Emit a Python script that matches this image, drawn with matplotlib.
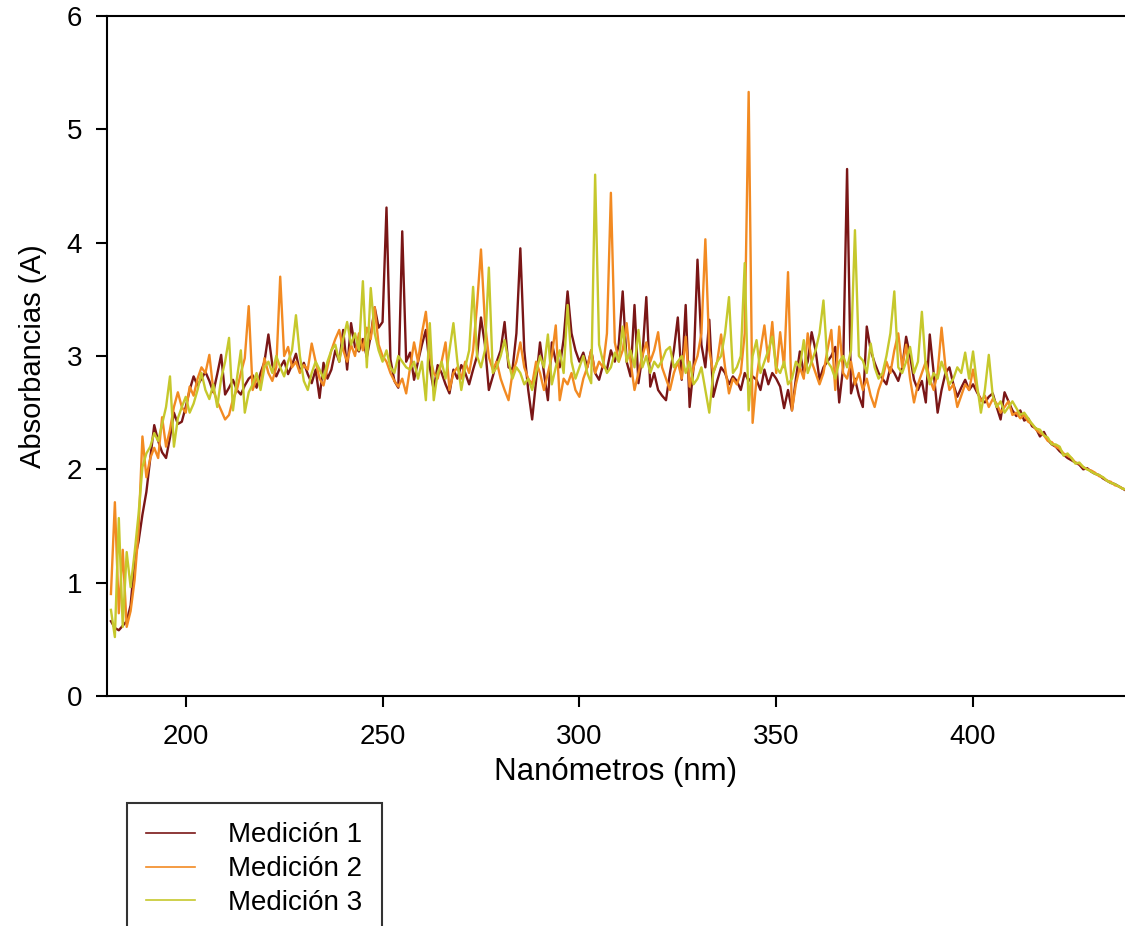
import numpy as np
import matplotlib
matplotlib.use("Agg")
import matplotlib.pyplot as plt

plt.rcParams['font.family'] = ['Liberation Sans', 'DejaVu Sans']

# wavelength (nm), 1 nm steps
wavelength = list(range(181, 441))

medicion_1 = [
    0.66, 0.60, 0.58, 0.62, 0.66, 0.80, 1.20, 1.36, 1.60, 1.80,
    2.10, 2.39, 2.25, 2.15, 2.10, 2.28, 2.50, 2.40, 2.42, 2.55,
    2.70, 2.82, 2.74, 2.80, 2.86, 2.78, 2.68, 2.84, 3.01, 2.66,
    2.72, 2.79, 2.70, 2.66, 2.74, 2.80, 2.83, 2.72, 2.85, 2.95,
    3.19, 2.92, 2.82, 2.90, 2.96, 2.84, 2.92, 3.02, 2.86, 2.94,
    2.84, 2.76, 2.88, 2.63, 2.94, 2.80, 2.88, 3.05, 2.95, 3.23,
    2.88, 3.29, 3.08, 3.04, 3.15, 2.99, 3.18, 3.43, 3.25, 3.30,
    4.31, 2.97, 2.78, 2.72, 4.10, 2.95, 3.03, 2.79, 2.95, 3.10,
    3.23, 2.90, 2.70, 2.92, 2.85, 2.75, 2.67, 2.88, 2.80, 2.92,
    2.85, 2.75, 2.88, 3.00, 3.34, 3.10, 2.70, 2.82, 2.95, 3.05,
    3.30, 2.90, 2.88, 3.20, 3.95, 3.05, 2.70, 2.44, 2.78, 3.12,
    2.85, 2.61, 3.12, 2.95, 2.90, 3.15, 3.57, 3.20, 3.05, 2.95,
    3.03, 2.90, 3.05, 2.85, 2.79, 2.92, 2.88, 3.05, 2.95, 3.10,
    3.57, 2.95, 2.82, 3.45, 2.76, 3.00, 3.52, 2.73, 2.85, 2.70,
    2.65, 2.61, 2.85, 3.05, 3.34, 2.79, 3.45, 2.55, 2.90, 3.85,
    3.10, 2.90, 3.32, 2.64, 2.78, 2.90, 2.85, 2.75, 2.82, 2.78,
    2.70, 2.85, 2.78, 2.82, 2.79, 2.70, 2.88, 2.75, 2.85, 2.80,
    2.73, 2.54, 2.70, 2.52, 2.80, 3.04, 2.85, 2.95, 3.21, 3.05,
    2.79, 2.90, 2.95, 3.00, 3.08, 2.59, 2.90, 4.65, 2.67, 2.80,
    2.65, 2.55, 3.26, 3.05, 2.94, 2.85, 2.80, 2.75, 2.90, 2.85,
    2.78, 2.90, 3.17, 3.00, 2.79, 2.70, 2.78, 2.59, 3.19, 2.85,
    2.50, 2.70, 2.85, 2.90, 2.75, 2.64, 2.72, 2.79, 2.70, 2.75,
    2.68, 2.62, 2.59, 2.64, 2.67, 2.55, 2.44, 2.68, 2.60, 2.52,
    2.47, 2.52, 2.43, 2.45, 2.38, 2.36, 2.29, 2.33, 2.26, 2.22,
    2.20, 2.16, 2.13, 2.10, 2.08, 2.06, 2.04, 2.00, 2.01, 1.98,
    1.96, 1.95, 1.92, 1.90, 1.88, 1.87, 1.85, 1.83, 1.81, 1.79,
]

medicion_2 = [
    0.90, 1.71, 0.73, 1.29, 0.61, 0.75, 1.02, 1.45, 2.29, 1.93,
    2.10, 2.19, 2.10, 2.46, 2.20, 2.35, 2.55, 2.68, 2.55, 2.50,
    2.73, 2.65, 2.80, 2.90, 2.85, 3.01, 2.70, 2.60, 2.52, 2.44,
    2.48, 2.62, 2.70, 2.85, 2.98, 3.44, 2.70, 2.80, 2.75, 2.98,
    2.85, 2.78, 2.90, 3.70, 3.00, 3.08, 2.90, 2.95, 2.85, 2.92,
    2.88, 3.11, 2.95, 2.80, 2.74, 2.90, 3.05, 3.15, 3.23, 3.05,
    2.95, 3.10, 3.00, 3.20, 3.05, 3.25, 3.15, 3.43, 3.10, 3.00,
    2.95, 2.85, 2.78, 2.73, 2.80, 2.67, 2.90, 3.12, 2.95, 3.20,
    3.39, 3.00, 2.85, 2.80, 2.95, 3.12, 2.70, 2.85, 2.90, 2.80,
    2.95, 2.85, 3.05, 3.45, 3.94, 3.30, 2.99, 2.88, 2.95, 2.80,
    2.70, 2.61, 2.85, 2.95, 3.12, 2.90, 2.80, 2.75, 2.95, 2.85,
    2.70, 2.85, 3.00, 3.27, 2.61, 2.80, 2.75, 2.85, 2.70, 2.64,
    2.80, 2.90, 3.05, 2.85, 2.95, 2.90, 3.20, 4.44, 3.12, 2.95,
    3.05, 3.29, 2.95, 2.70, 2.85, 3.00, 3.12, 2.95, 3.05, 3.21,
    2.90, 2.80, 2.70, 2.85, 2.95, 2.80, 3.17, 2.73, 2.90, 3.00,
    3.20, 4.03, 3.05, 2.85, 2.95, 3.19, 2.90, 2.67, 2.80, 2.75,
    2.85, 3.20, 5.33, 2.41, 2.80, 3.05, 3.27, 2.95, 3.30, 2.85,
    3.21, 2.90, 3.74, 2.52, 2.75, 2.90, 2.80, 3.20, 2.95, 2.85,
    2.75, 2.85, 3.05, 3.23, 2.70, 3.26, 2.85, 2.80, 2.95, 2.75,
    2.85, 2.70, 2.80, 2.65, 2.55, 2.70, 2.80, 2.95, 2.85, 3.05,
    3.20, 2.90, 3.10, 2.80, 2.59, 2.75, 2.85, 2.95, 2.80, 2.70,
    2.85, 3.25, 2.90, 2.70, 2.75, 2.55, 2.65, 2.75, 2.70, 2.88,
    2.70, 2.60, 2.65, 2.55, 2.62, 2.58, 2.50, 2.55, 2.60, 2.48,
    2.50, 2.45, 2.48, 2.42, 2.40, 2.35, 2.32, 2.30, 2.25, 2.24,
    2.20, 2.18, 2.14, 2.12, 2.10, 2.06, 2.05, 2.02, 2.00, 1.99,
    1.97, 1.94, 1.93, 1.90, 1.89, 1.86, 1.85, 1.83, 1.82, 1.80,
]

medicion_3 = [
    0.76, 0.52, 1.57, 0.61, 1.27, 0.96, 1.26, 1.60, 2.02, 2.14,
    2.20, 2.32, 2.25, 2.40, 2.55, 2.82, 2.20, 2.45, 2.55, 2.64,
    2.50, 2.58, 2.70, 2.85, 2.70, 2.62, 2.75, 2.55, 2.80, 2.95,
    3.16, 2.52, 2.80, 3.05, 2.50, 2.68, 2.75, 2.85, 2.70, 2.90,
    2.95, 2.85, 3.00, 2.90, 2.82, 2.95, 3.05, 3.36, 3.00, 2.78,
    2.70, 2.85, 2.95, 2.88, 2.80, 2.95, 3.05, 3.10, 2.95, 3.15,
    3.30, 3.10, 3.20, 3.05, 3.66, 2.90, 3.60, 3.20, 3.05, 2.95,
    3.05, 2.90, 2.85, 3.00, 2.95, 2.90, 2.88, 2.95, 2.80, 2.95,
    2.61, 3.29, 2.61, 2.85, 2.95, 2.80, 3.05, 3.29, 2.95, 2.70,
    2.90, 3.05, 3.61, 3.00, 2.90, 3.05, 3.78, 2.85, 2.90, 3.00,
    3.14, 2.95, 2.80, 2.90, 2.85, 2.75, 2.80, 2.70, 2.85, 3.00,
    2.90, 3.19, 2.75, 2.90, 3.05, 2.85, 3.45, 2.95, 2.80, 2.90,
    3.00, 2.85, 2.76, 4.60, 3.10, 2.95, 2.85, 2.90, 3.03, 2.95,
    3.26, 2.95, 3.05, 2.90, 3.23, 2.90, 3.00, 2.85, 2.95, 2.90,
    2.96, 3.05, 3.08, 2.90, 2.95, 3.00, 2.85, 2.95, 2.75, 2.80,
    2.90, 2.70, 2.50, 2.85, 2.95, 3.00, 3.20, 3.52, 2.85, 2.90,
    3.00, 3.82, 2.52, 3.00, 3.14, 2.85, 2.95, 3.05, 3.17, 2.90,
    2.85, 2.95, 2.75, 2.80, 2.95, 2.90, 3.14, 2.85, 2.95, 3.05,
    3.20, 3.49, 2.95, 2.90, 2.80, 2.95, 3.00, 2.90, 3.05, 4.11,
    3.00, 2.96, 2.85, 3.11, 2.90, 2.80, 2.85, 3.00, 3.20, 3.57,
    2.90, 2.85, 2.95, 3.08, 2.85, 2.95, 3.39, 2.90, 2.75, 2.85,
    2.80, 2.95, 2.85, 2.75, 2.80, 2.90, 2.85, 3.03, 2.80, 3.04,
    2.75, 2.50, 2.70, 3.01, 2.65, 2.55, 2.60, 2.50, 2.55, 2.60,
    2.54, 2.48, 2.50, 2.45, 2.40, 2.36, 2.35, 2.30, 2.28, 2.22,
    2.22, 2.20, 2.12, 2.14, 2.10, 2.05, 2.06, 2.02, 2.00, 1.98,
    1.96, 1.95, 1.93, 1.90, 1.88, 1.87, 1.85, 1.83, 1.82, 1.80,
]

series_labels = ["Medición 1", "Medición 2", "Medición 3"]
series_colors = ["#7A1616", "#F28A22", "#C6C82C"]
x_ticks = [200, 250, 300, 350, 400]
y_ticks = [0, 1, 2, 3, 4, 5, 6]

W, H = 1125, 926
fig = plt.figure(figsize=(W / 100, H / 100), dpi=100)
ax = fig.add_axes([107 / W, 1 - 696 / H, 1 - 107 / W, (696 - 16) / H])

for vals, lab, col in zip([medicion_1, medicion_2, medicion_3], series_labels, series_colors):
    ax.plot(wavelength, vals, color=col, lw=1.7, label=lab, solid_joinstyle='round')

ax.set_xlim(180, 438.6)
ax.set_ylim(0, 6)
ax.set_xticks(x_ticks)
ax.set_yticks(y_ticks)
ax.spines['right'].set_visible(False)
for s in ['left', 'bottom', 'top']:
    ax.spines[s].set_linewidth(1.5)
ax.tick_params(direction='out', length=8, width=1.5, labelsize=20, colors='black')
ax.tick_params(axis='x', pad=12)
ax.tick_params(axis='y', pad=10)

ax.set_xlabel("Nanómetros (nm)", fontsize=22.5, labelpad=5)
ax.set_ylabel("Absorbancias (A)", fontsize=21, labelpad=14)

leg = fig.legend(loc='upper left', bbox_to_anchor=(127 / W, 1 - 803 / H),
                 fontsize=20, frameon=True, fancybox=False, edgecolor='black',
                 handlelength=1.75, handletextpad=1.2, labelspacing=0.28,
                 borderpad=0.7, borderaxespad=0)
leg.get_frame().set_linewidth(1.5)
for line in leg.get_lines():
    line.set_linewidth(1.2)

fig.savefig("out.png", dpi=100)
